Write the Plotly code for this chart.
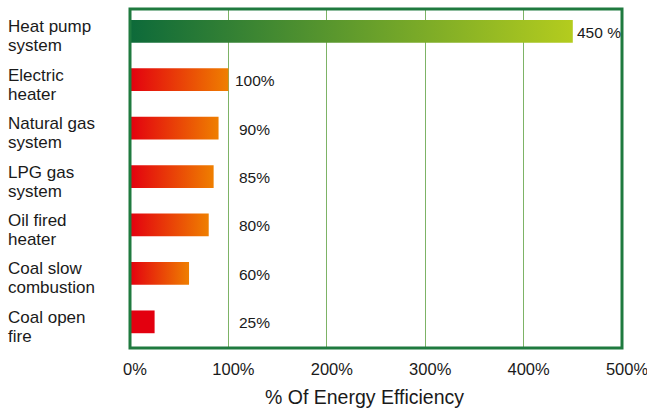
import plotly.graph_objects as go

# Heating systems and their energy efficiency (%)
systems = [
    "Heat pump<br>system",
    "Electric<br>heater",
    "Natural gas<br>system",
    "LPG gas<br>system",
    "Oil fired<br>heater",
    "Coal slow<br>combustion",
    "Coal open<br>fire",
]
efficiency = [450, 100, 90, 85, 80, 60, 25]
value_labels = ["450 %", "100%", "90%", "85%", "80%", "60%", "25%"]
x_ticks = [0, 100, 200, 300, 400, 500]
x_tick_labels = ["0%", "100%", "200%", "300%", "400%", "500%"]

# Gradient colours per bar (start, end)
bar_gradients = [
    ("#0d6a3a", "#b4cc1e"),
    ("#e3000f", "#ef7f00"),
    ("#e3000f", "#ef7f00"),
    ("#e3000f", "#ef7f00"),
    ("#e3000f", "#ef7f00"),
    ("#e3000f", "#ef7f00"),
    ("#e3000f", "#e3000f"),
]

FONT = "Liberation Sans, Arial, sans-serif"
TEXT = "#1a1a1a"
BORDER = "#1f7a3f"
GRID = "#7db366"
HALF = 0.235  # half bar thickness in category units

fig = go.Figure()

for i, (val, (c0, c1)) in enumerate(zip(efficiency, bar_gradients)):
    fig.add_trace(go.Scatter(
        x=[0, val, val, 0, 0],
        y=[i - HALF, i - HALF, i + HALF, i + HALF, i - HALF],
        mode="lines",
        line=dict(width=0),
        fill="toself",
        fillgradient=dict(type="horizontal", colorscale=[[0, c0], [1, c1]]),
        hoverinfo="skip",
        showlegend=False,
    ))

annotations = []
# value labels to the right of each bar
for i, (val, lab) in enumerate(zip(efficiency, value_labels)):
    if val > 300:
        shift = 2
    elif val >= 100:
        shift = 5
    else:
        shift = 9
    annotations.append(dict(
        x=max(val, 100), y=i, xref="x", yref="y",
        text=lab, showarrow=False, xanchor="left", yanchor="middle",
        xshift=shift, yshift=-1,
        font=dict(family=FONT, size=15.5, color=TEXT),
    ))

# left-aligned two-line category labels
for i, name in enumerate(systems):
    for k, line in enumerate(name.split("<br>")):
        annotations.append(dict(
            x=0, y=i, xref="paper", yref="y",
            text=line, showarrow=False, xanchor="left", yanchor="middle",
            xshift=-124, yshift=4.5 - 19 * k,
            font=dict(family=FONT, size=17, color=TEXT),
        ))

# axis title
annotations.append(dict(
    x=0.476, y=-0.145, xref="paper", yref="paper",
    text="% Of Energy Efficiency", showarrow=False,
    xanchor="center", yanchor="middle",
    font=dict(family=FONT, size=19.5, color=TEXT),
))

fig.update_layout(
    width=647, height=410,
    margin=dict(l=130, r=25, t=9, b=62, autoexpand=False),
    paper_bgcolor="white", plot_bgcolor="white",
    annotations=annotations,
    shapes=[dict(type="rect", xref="paper", yref="paper", x0=0, x1=1, y0=0, y1=1,
                 line=dict(color=BORDER, width=3), layer="above")],
    xaxis=dict(
        range=[0, 500], tickvals=x_ticks, ticktext=x_tick_labels,
        showgrid=True, gridcolor=GRID, gridwidth=1.2,
        zeroline=False, showline=False, ticks="",
        ticklabelshift=5, ticklabelstandoff=9,
        ticklabeloverflow="allow", automargin=False,
        tickfont=dict(family=FONT, size=16.5, color=TEXT),
        fixedrange=True,
    ),
    yaxis=dict(
        range=[6.54, -0.46], showticklabels=False, showgrid=False,
        zeroline=False, showline=False, ticks="", fixedrange=True,
        automargin=False,
    ),
)

fig.write_html("out.html")
